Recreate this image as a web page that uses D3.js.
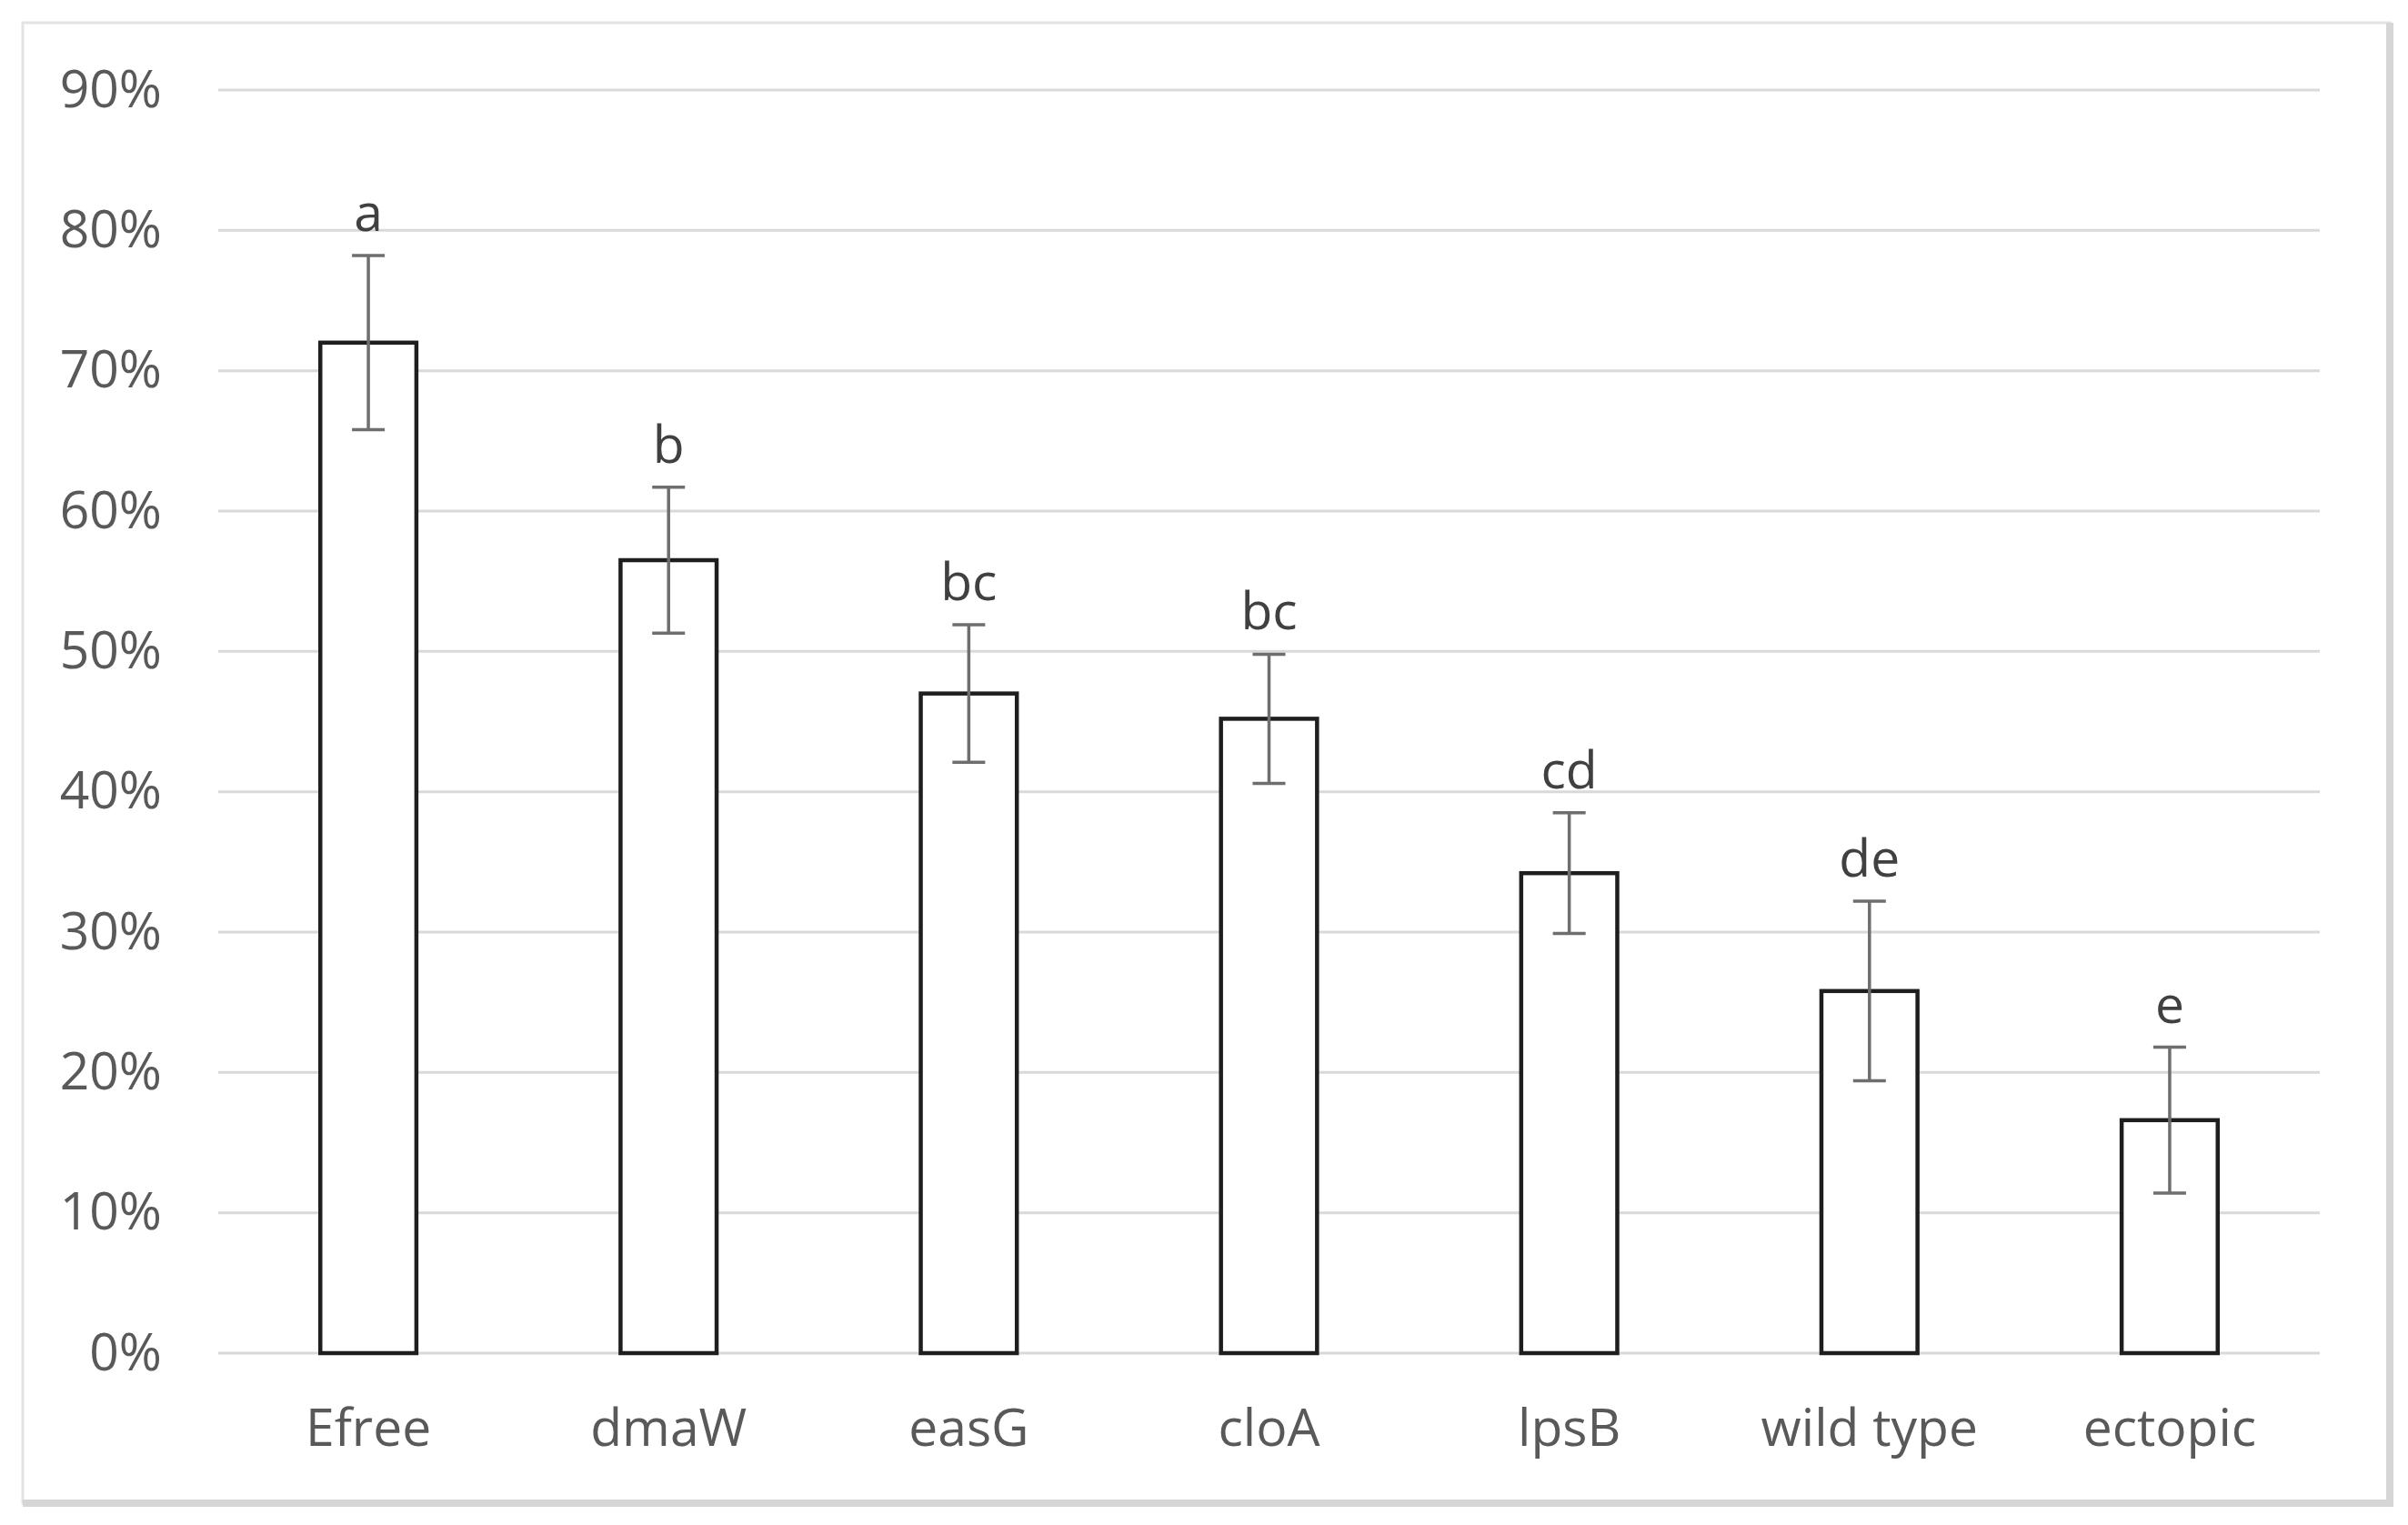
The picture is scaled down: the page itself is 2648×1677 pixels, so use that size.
<!DOCTYPE html>
<html>
<head>
<meta charset="utf-8">
<script src="https://cdn.jsdelivr.net/npm/d3@7"></script>
<style>
  html, body { margin: 0; padding: 0; background: #ffffff; }
  svg { display: block; }
  text { font-family: "Open Sans", "Noto Sans", sans-serif; }
</style>
</head>
<body>
<svg id="chart" width="2648" height="1677"></svg>
<script>
// ---- data ----
const categories = ["Efree", "dmaW", "easG", "cloA", "lpsB", "wild type", "ectopic"];
const means      = [0.720, 0.565, 0.470, 0.452, 0.342, 0.258, 0.166];
const errors     = [0.062, 0.052, 0.049, 0.046, 0.043, 0.064, 0.052];
const letters    = ["a", "b", "bc", "bc", "cd", "de", "e"];
const tickValues = [0, 0.1, 0.2, 0.3, 0.4, 0.5, 0.6, 0.7, 0.8, 0.9];

// ---- layout ----
const W = 2648, H = 1677;
const plot = { left: 240, right: 2551, top: 99, bottom: 1488 };

const svg = d3.select("#chart");

// outer chart frame
svg.append("rect")
  .attr("x", 25).attr("y", 25)
  .attr("width", 2603).attr("height", 1628)
  .attr("fill", "#ffffff")
  .attr("stroke", "#e3e3e3").attr("stroke-width", 3);
// heavier right / bottom edge
svg.append("line").attr("x1", 2628).attr("x2", 2628).attr("y1", 25).attr("y2", 1657)
  .attr("stroke", "#d6d6d6").attr("stroke-width", 8);
svg.append("line").attr("x1", 25).attr("x2", 2632).attr("y1", 1653).attr("y2", 1653)
  .attr("stroke", "#d6d6d6").attr("stroke-width", 8);

const x = d3.scaleBand()
  .domain(categories)
  .range([plot.left, plot.right])
  .paddingInner(0.68)
  .paddingOuter(0.34);

const y = d3.scaleLinear()
  .domain([0, 0.9])
  .range([plot.bottom, plot.top]);

// gridlines
svg.append("g")
  .selectAll("line")
  .data(tickValues)
  .join("line")
  .attr("x1", plot.left).attr("x2", plot.right)
  .attr("y1", d => y(d)).attr("y2", d => y(d))
  .attr("stroke", "#d9d9d9").attr("stroke-width", 3);

// y axis labels (via d3 axis)
const yAxis = d3.axisLeft(y)
  .tickValues(tickValues)
  .tickFormat(d3.format(".0%"))
  .tickSize(0)
  .tickPadding(0);
const yg = svg.append("g")
  .attr("transform", `translate(178,0)`)
  .call(yAxis);
yg.select(".domain").remove();
yg.selectAll("text")
  .attr("font-family", "Open Sans, Noto Sans, sans-serif")
  .attr("font-size", 57)
  .attr("fill", "#595959")
  .attr("dy", "0.32em");

// x axis labels
const xAxis = d3.axisBottom(x).tickSize(0).tickPadding(0);
const xg = svg.append("g")
  .attr("transform", `translate(0,${plot.bottom})`)
  .call(xAxis);
xg.select(".domain").remove();
xg.selectAll("text")
  .attr("font-family", "Open Sans, Noto Sans, sans-serif")
  .attr("font-size", 57)
  .attr("fill", "#595959")
  .attr("y", 102)
  .attr("dy", 0);

const data = categories.map((c, i) => ({ c, m: means[i], e: errors[i], l: letters[i] }));

// bars
svg.append("g")
  .selectAll("rect")
  .data(data)
  .join("rect")
  .attr("x", d => x(d.c))
  .attr("y", d => y(d.m))
  .attr("width", x.bandwidth())
  .attr("height", d => y(0) - y(d.m))
  .attr("fill", "#ffffff")
  .attr("stroke", "#1e1e1e")
  .attr("stroke-width", 4.5);

// error bars
const cap = 18;
const eg = svg.append("g").attr("stroke", "#6e6e6e").attr("stroke-width", 3.5);
data.forEach(d => {
  const cx = x(d.c) + x.bandwidth() / 2;
  eg.append("line").attr("x1", cx).attr("x2", cx)
    .attr("y1", y(d.m + d.e)).attr("y2", y(d.m - d.e));
  eg.append("line").attr("x1", cx - cap).attr("x2", cx + cap)
    .attr("y1", y(d.m + d.e)).attr("y2", y(d.m + d.e));
  eg.append("line").attr("x1", cx - cap).attr("x2", cx + cap)
    .attr("y1", y(d.m - d.e)).attr("y2", y(d.m - d.e));
});

// significance letters
svg.append("g")
  .selectAll("text")
  .data(data)
  .join("text")
  .attr("x", d => x(d.c) + x.bandwidth() / 2)
  .attr("y", d => y(d.m + d.e) - 27)
  .attr("text-anchor", "middle")
  .attr("font-size", 57)
  .attr("fill", "#404040")
  .text(d => d.l);
</script>
</body>
</html>
